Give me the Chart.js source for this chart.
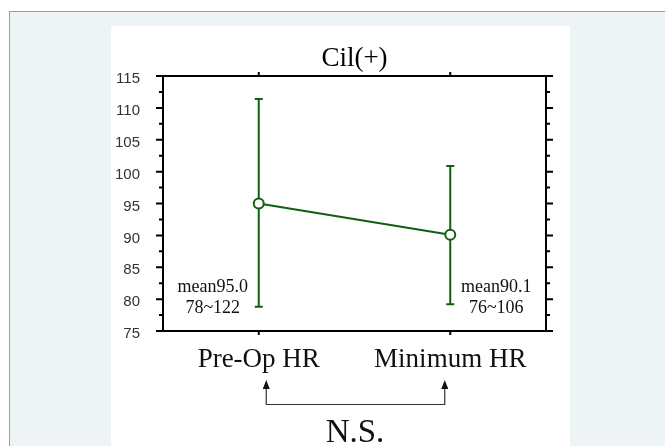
<!DOCTYPE html>
<html>
<head>
<meta charset="utf-8">
<script src="https://cdn.jsdelivr.net/npm/chart.js@4/dist/chart.umd.min.js"></script>
<style>
  html, body { margin:0; padding:0; width:665px; height:446px; overflow:hidden; background:#ffffff; }
  #outer { position:absolute; left:9px; top:11px; right:0; bottom:0; background:#eef3f6; border-top:1px solid #9c9c9c; border-left:1px solid #9c9c9c; }
  #panel { position:absolute; left:111px; top:26px; width:459px; bottom:0; background:#ffffff; }
  #c { position:absolute; left:0; top:0; }
</style>
</head>
<body>
<div id="outer"></div>
<div id="panel"></div>
<canvas id="c" width="665" height="446"></canvas>
<script>
// ---- data ----
const titleText = 'Cil(+)';
const categories = ['Pre-Op HR', 'Minimum HR'];
const means = [95.0, 90.1];
const errUpper = [111.4, 100.9];
const errLower = [78.8, 79.2];
const annotations = [['mean95.0', '78~122'], ['mean90.1', '76~106']];
const yMin = 75, yMax = 115, yStep = 5;
const sigText = 'N.S.';

const GREEN = '#115f11';

const deco = {
  id: 'deco',
  beforeDatasetsDraw(chart) {
    const ctx = chart.ctx, x = chart.scales.x, y = chart.scales.y;
    ctx.save();
    ctx.strokeStyle = GREEN;
    for (let i = 0; i < categories.length; i++) {
      const px = x.getPixelForValue(i);
      const yt = y.getPixelForValue(errUpper[i]);
      const yb = y.getPixelForValue(errLower[i]);
      ctx.lineWidth = 2;
      ctx.beginPath(); ctx.moveTo(px, yt); ctx.lineTo(px, yb); ctx.stroke();
      ctx.beginPath();
      ctx.moveTo(px - 4, yt); ctx.lineTo(px + 4, yt);
      ctx.moveTo(px - 4, yb); ctx.lineTo(px + 4, yb);
      ctx.stroke();
    }
    ctx.restore();
  },
  afterDraw(chart) {
    const ctx = chart.ctx, ca = chart.chartArea, x = chart.scales.x, y = chart.scales.y;
    ctx.save();
    // frame
    ctx.strokeStyle = '#000';
    ctx.lineWidth = 2;
    ctx.beginPath();
    ctx.moveTo(ca.left, ca.top); ctx.lineTo(ca.left, ca.bottom);
    ctx.moveTo(ca.right, ca.top); ctx.lineTo(ca.right, ca.bottom);
    ctx.moveTo(ca.left - 7, ca.top); ctx.lineTo(ca.right + 7, ca.top);
    ctx.moveTo(ca.left - 7, ca.bottom); ctx.lineTo(ca.right + 7, ca.bottom);
    ctx.stroke();
    // y ticks (major from scale ticks, minor halfway)
    const tv = y.ticks.map(t => t.value);
    ctx.beginPath();
    tv.forEach((v, k) => {
      const py = y.getPixelForValue(v);
      ctx.moveTo(ca.left - 7, py); ctx.lineTo(ca.left, py);
      ctx.moveTo(ca.right, py); ctx.lineTo(ca.right + 7, py);
      if (k < tv.length - 1) {
        const pm = y.getPixelForValue((v + tv[k + 1]) / 2);
        ctx.moveTo(ca.left - 4, pm); ctx.lineTo(ca.left, pm);
        ctx.moveTo(ca.right, pm); ctx.lineTo(ca.right + 4, pm);
      }
    });
    // x ticks top and bottom
    for (let i = 0; i < categories.length; i++) {
      const px = x.getPixelForValue(i);
      ctx.moveTo(px, ca.top - 4); ctx.lineTo(px, ca.top);
      ctx.moveTo(px, ca.bottom); ctx.lineTo(px, ca.bottom + 4);
    }
    ctx.stroke();

    // title
    ctx.fillStyle = '#000';
    ctx.font = '27px "Liberation Serif"';
    ctx.textAlign = 'center';
    ctx.textBaseline = 'alphabetic';
    ctx.fillText(titleText, (ca.left + ca.right) / 2, 66);

    // annotations
    ctx.font = '18px "Liberation Serif"';
    ctx.fillStyle = '#111';
    const offs = [-46, 46];
    annotations.forEach((lines, i) => {
      const px = x.getPixelForValue(i) + offs[i];
      ctx.fillText(lines[0], px, 292);
      ctx.fillText(lines[1], px, 313);
    });

    // bracket with arrows
    const lx = x.getPixelForValue(0) + 7, rx = x.getPixelForValue(1) - 6;
    const tipY = 380, baseY = 404;
    ctx.strokeStyle = '#333';
    ctx.fillStyle = '#111';
    ctx.lineWidth = 1.2;
    ctx.beginPath();
    ctx.moveTo(lx + 0.5, tipY + 6); ctx.lineTo(lx + 0.5, baseY + 0.5);
    ctx.lineTo(rx + 0.5, baseY + 0.5); ctx.lineTo(rx + 0.5, tipY + 6);
    ctx.stroke();
    [lx, rx].forEach(ax => {
      ctx.beginPath();
      ctx.moveTo(ax + 0.5, tipY);
      ctx.lineTo(ax + 4, tipY + 9);
      ctx.lineTo(ax - 3, tipY + 9);
      ctx.closePath();
      ctx.fill();
    });
    ctx.font = '33px "Liberation Serif"';
    ctx.fillStyle = '#111';
    ctx.fillText(sigText, (lx + rx) / 2, 442);
    ctx.restore();
  }
};

new Chart(document.getElementById('c'), {
  type: 'line',
  data: {
    labels: categories,
    datasets: [{
      data: means,
      borderColor: GREEN,
      borderWidth: 2,
      pointRadius: 5,
      pointHoverRadius: 5,
      pointBackgroundColor: '#ffffff',
      pointBorderColor: GREEN,
      pointBorderWidth: 2,
      tension: 0
    }]
  },
  options: {
    responsive: false,
    animation: false,
    events: [],
    layout: { padding: { left: 0, right: 119, top: 76, bottom: 0 } },
    plugins: { legend: { display: false }, title: { display: false }, tooltip: { enabled: false } },
    scales: {
      x: {
        type: 'category',
        offset: true,
        grid: { display: false, drawTicks: false },
        border: { display: false },
        ticks: { color: '#111', font: { family: 'Liberation Serif', size: 27 }, padding: 13, maxRotation: 0, autoSkip: false },
        afterFit: s => { s.height = 115; }
      },
      y: {
        min: yMin, max: yMax,
        grid: { display: false, drawTicks: false },
        border: { display: false },
        ticks: { stepSize: yStep, color: '#333', font: { family: 'Liberation Sans', size: 15 }, padding: 23, labelOffset: 3 },
        afterFit: s => { s.width = 163; }
      }
    }
  },
  plugins: [deco]
});
</script>
</body>
</html>
